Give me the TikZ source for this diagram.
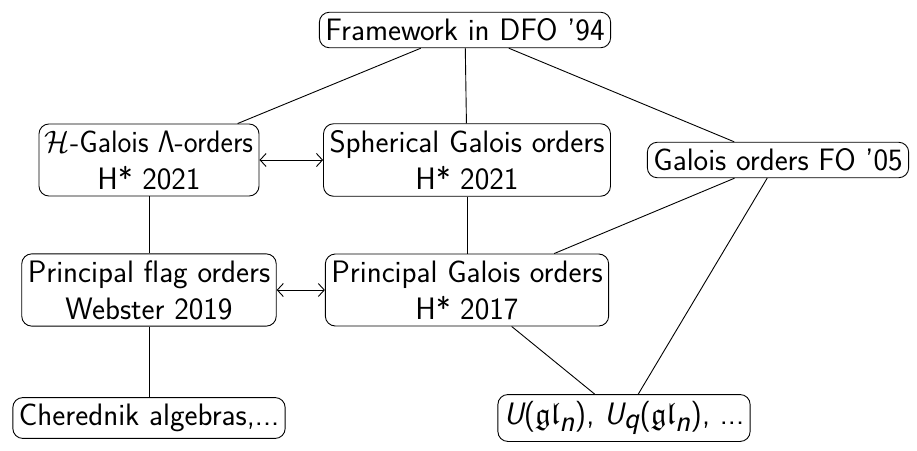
\RequirePackage{fix-cm}
\documentclass[tikz,border=0pt]{standalone}
\usepackage{amssymb}
\usepackage{graphicx}
\usetikzlibrary{arrows.meta}
\begin{document}
\begin{tikzpicture}[x=1pt,y=-1pt,
  box/.style={draw,rounded corners=10pt,line width=0.9pt,align=center,inner xsep=6pt,inner ysep=6.5pt,
    font=\sffamily\fontsize{31}{37}\selectfont},
  conn/.style={line width=0.9pt},
  biarrow/.style={line width=0.9pt,{Straight Barb[length=6pt,width=13pt]}-{Straight Barb[length=6pt,width=13pt]}}]
\useasboundingbox (0,0) rectangle (917,450);
\node[box] (fw) at (465,30) {Framework in DFO '94};
\node[box] (hg) at (149,160) {\scalebox{0.95}[1]{$\mathcal{H}$-Galois $\mathsf{\Lambda}$-orders}\\H* 2021};
\node[box] (sg) at (467,160) {Spherical Galois orders\\H* 2021};
\node[box] (fo) at (778,160) {Galois orders FO '05};
\node[box] (pf) at (149,290) {Principal flag orders\\Webster 2019};
\node[box] (pg) at (467,290) {Principal Galois orders\\H* 2017};
\node[box] (ch) at (149,418) {Cherednik algebras,...};
\node[box] (ug) at (624,418) {{\slshape U}($\mathfrak{gl}_{\textsl{n}}$), {\slshape U}$_{\textsl{q}}$($\mathfrak{gl}_{\textsl{n}}$), ...};
\draw[conn] (fw) -- (hg);
\draw[conn] (fw) -- (sg);
\draw[conn] (fw) -- (fo);
\draw[biarrow] (hg) -- (sg);
\draw[conn] (hg) -- (pf);
\draw[conn] (sg) -- (pg);
\draw[conn] (fo) -- (pg);
\draw[conn] (fo) -- (ug);
\draw[conn] (pg) -- (ug);
\draw[biarrow] (pf) -- (pg);
\draw[conn] (pf) -- (ch);
\end{tikzpicture}
\end{document}
